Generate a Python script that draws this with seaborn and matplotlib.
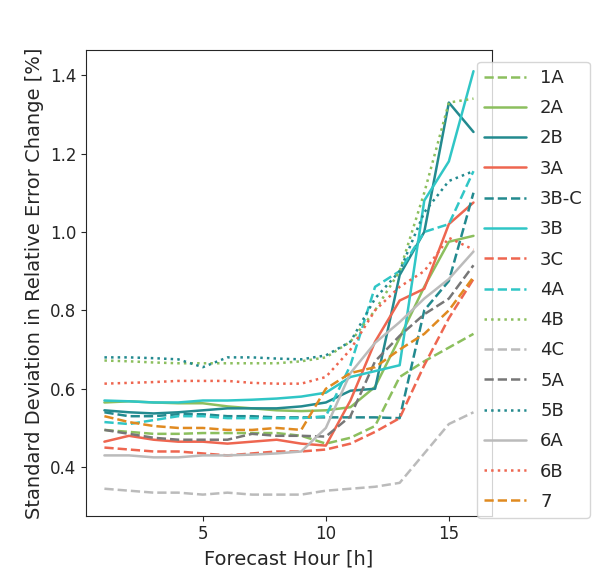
import pandas as pd
import matplotlib
matplotlib.use("Agg")
import matplotlib.pyplot as plt
import seaborn as sns

hours = list(range(1, 17))

s_1A = [0.495, 0.49, 0.485, 0.485, 0.487, 0.487, 0.487, 0.487, 0.48, 0.46, 0.475, 0.505, 0.63, 0.67, 0.705, 0.74]
s_2A = [0.565, 0.568, 0.565, 0.563, 0.563, 0.555, 0.55, 0.545, 0.543, 0.545, 0.553, 0.605, 0.73, 0.86, 0.975, 0.99]
s_2B = [0.545, 0.54, 0.537, 0.54, 0.545, 0.55, 0.55, 0.55, 0.555, 0.565, 0.595, 0.6, 0.89, 1.0, 1.33, 1.255]
s_3A = [0.465, 0.48, 0.47, 0.465, 0.465, 0.46, 0.465, 0.47, 0.46, 0.455, 0.57, 0.72, 0.825, 0.855, 1.02, 1.075]
s_3BC = [0.54, 0.53, 0.53, 0.535, 0.535, 0.53, 0.53, 0.527, 0.527, 0.527, 0.527, 0.527, 0.525, 0.8, 0.875, 1.1]
s_3B = [0.57, 0.568, 0.565, 0.565, 0.57, 0.57, 0.572, 0.575, 0.58, 0.59, 0.63, 0.645, 0.66, 1.08, 1.18, 1.41]
s_3C = [0.45, 0.445, 0.44, 0.44, 0.435, 0.43, 0.435, 0.44, 0.44, 0.445, 0.46, 0.49, 0.525, 0.66, 0.78, 0.88]
s_4A = [0.515, 0.51, 0.52, 0.53, 0.53, 0.525, 0.525, 0.525, 0.525, 0.53, 0.66, 0.86, 0.9, 1.0, 1.02, 1.155]
s_4B = [0.672, 0.67, 0.667, 0.665, 0.665, 0.665, 0.665, 0.665, 0.67, 0.68, 0.72, 0.8, 0.9, 1.1, 1.33, 1.34]
s_4C = [0.345, 0.34, 0.335, 0.335, 0.33, 0.335, 0.33, 0.33, 0.33, 0.34, 0.345, 0.35, 0.36, 0.435, 0.51, 0.54]
s_5A = [0.495, 0.485, 0.475, 0.47, 0.47, 0.47, 0.485, 0.48, 0.48, 0.478, 0.53, 0.67, 0.735, 0.79, 0.83, 0.915]
s_5B = [0.68, 0.68, 0.678, 0.675, 0.655, 0.68, 0.68, 0.677, 0.675, 0.685, 0.72, 0.83, 0.9, 1.05, 1.13, 1.155]
s_6A = [0.43, 0.43, 0.425, 0.425, 0.43, 0.43, 0.432, 0.435, 0.44, 0.5, 0.64, 0.717, 0.77, 0.83, 0.88, 0.95]
s_6B = [0.613, 0.615, 0.617, 0.62, 0.62, 0.62, 0.615, 0.613, 0.613, 0.63, 0.7, 0.8, 0.86, 0.9, 0.985, 0.955]
s_7 = [0.53, 0.515, 0.505, 0.5, 0.5, 0.495, 0.495, 0.5, 0.495, 0.6, 0.64, 0.655, 0.7, 0.74, 0.8, 0.885]

green, teal, red, cyan = "#8cbf5e", "#238a8f", "#ee6650", "#30c6c6"
orange, lgray, dgray = "#e08a20", "#bbbbbb", "#777777"

# name, values, colour, linestyle
series = [
    ("1A", s_1A, green, "--"),
    ("2A", s_2A, green, "-"),
    ("2B", s_2B, teal, "-"),
    ("3A", s_3A, red, "-"),
    ("3B-C", s_3BC, teal, "--"),
    ("3B", s_3B, cyan, "-"),
    ("3C", s_3C, red, "--"),
    ("4A", s_4A, cyan, "--"),
    ("4B", s_4B, green, ":"),
    ("4C", s_4C, lgray, "--"),
    ("5A", s_5A, dgray, "--"),
    ("5B", s_5B, teal, ":"),
    ("6A", s_6A, lgray, "-"),
    ("6B", s_6B, red, ":"),
    ("7", s_7, orange, "--"),
]

sns.set_style("ticks")
fig = plt.figure(figsize=(5.97, 5.75), dpi=100)
ax = fig.add_axes([0.144, 0.103, 0.68, 0.81])

for name, vals, col, ls in series:
    df = pd.DataFrame({"hour": hours, "val": vals})
    sns.lineplot(data=df, x="hour", y="val", ax=ax, color=col, linestyle=ls,
                 linewidth=1.8, label=name)

ax.set_xticks([5, 10, 15])
ax.set_yticks([0.4, 0.6, 0.8, 1.0, 1.2, 1.4])
ax.tick_params(labelsize=12)
ax.set_xlabel("Forecast Hour [h]", fontsize=14)
ax.set_ylabel("Standard Deviation in Relative Error Change [%]", fontsize=14)
ax.legend(loc="upper left", bbox_to_anchor=(0.963, 0.975), borderaxespad=0,
          fontsize=13, handlelength=2.3, labelspacing=0.68)

fig.savefig("out.png", dpi=100)
